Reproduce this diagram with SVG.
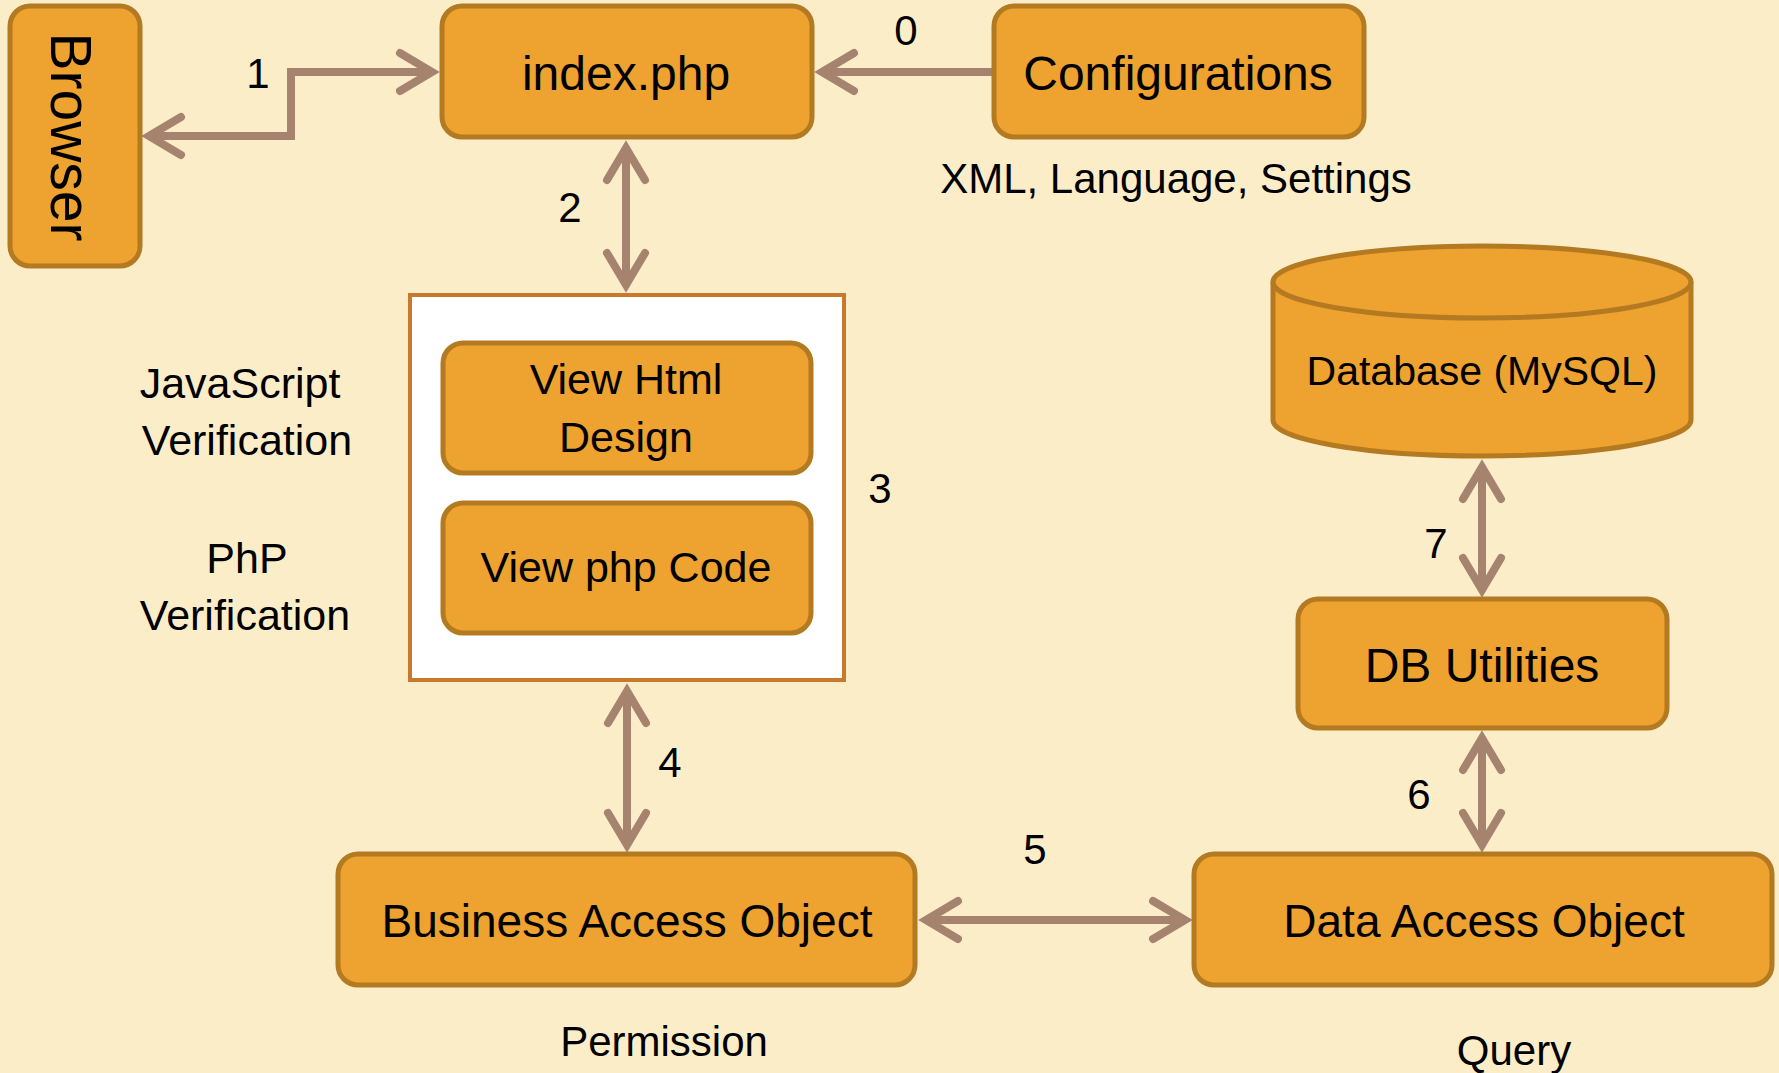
<svg xmlns="http://www.w3.org/2000/svg" width="1779" height="1073" viewBox="0 0 1779 1073">
<style>
.bg{fill:#FCEDC9}
.box{fill:#EEA22F;stroke:#B47A22;stroke-width:5}
.cont{fill:#FFFFFF;stroke:#C77A2E;stroke-width:4}
.t{font-family:"Liberation Sans",Arial,sans-serif;fill:#000;text-anchor:middle}
.n{font-size:42px}
.conn{fill:none;stroke:#A6836F;stroke-width:8;stroke-linejoin:miter}
</style>
<defs>
<marker id="chev" markerUnits="userSpaceOnUse" markerWidth="80" markerHeight="80" refX="0" refY="0" viewBox="-50 -40 80 80" orient="auto-start-reverse" overflow="visible">
<path d="M-32,-19 L0,0 L-32,19" fill="none" stroke="#A6836F" stroke-width="8" stroke-linecap="round" stroke-linejoin="miter"/>
</marker>
</defs>
<rect class="bg" x="0" y="0" width="1779" height="1073"/>

<g id="connectors">
<path class="conn" d="M994,72 L822,72" marker-end="url(#chev)"/>
<path class="conn" d="M149,136 L291,136 L291,72 L432,72" marker-start="url(#chev)" marker-end="url(#chev)"/>
<path class="conn" d="M626,148 L626,285" marker-start="url(#chev)" marker-end="url(#chev)"/>
<path class="conn" d="M627,691 L627,845" marker-start="url(#chev)" marker-end="url(#chev)"/>
<path class="conn" d="M926,920 L1185,920" marker-start="url(#chev)" marker-end="url(#chev)"/>
<path class="conn" d="M1482,738 L1482,845" marker-start="url(#chev)" marker-end="url(#chev)"/>
<path class="conn" d="M1482,467 L1482,590" marker-start="url(#chev)" marker-end="url(#chev)"/>
<text class="t n" x="906" y="45">0</text>
<text class="t n" x="258" y="88">1</text>
<text class="t n" x="570" y="222">2</text>
<text class="t n" x="880" y="503">3</text>
<text class="t n" x="670" y="777">4</text>
<text class="t n" x="1035" y="864">5</text>
<text class="t n" x="1419" y="809">6</text>
<text class="t n" x="1436" y="558">7</text>
</g>

<g id="browser">
<rect class="box" x="10" y="6" width="130" height="260" rx="20"/>
<text class="t" font-size="57" transform="translate(51,137) rotate(90)" x="0" y="0">Browser</text>
</g>

<g id="index">
<rect class="box" x="442" y="6" width="370" height="131" rx="20"/>
<text class="t" x="626" y="90" font-size="48">index.php</text>
</g>

<g id="configurations">
<rect class="box" x="994" y="6" width="370" height="131" rx="20"/>
<text class="t" x="1178" y="90" font-size="48">Configurations</text>
<text class="t" x="1176" y="193" font-size="42">XML, Language, Settings</text>
</g>

<g id="view">
<rect class="cont" x="410" y="295" width="434" height="385"/>
</g>

<g id="view-html">
<rect class="box" x="443" y="343" width="368" height="130" rx="20"/>
<text class="t" x="626" y="394" font-size="43">View Html</text>
<text class="t" x="626" y="452" font-size="43">Design</text>
</g>

<g id="view-php">
<rect class="box" x="443" y="503" width="368" height="130" rx="20"/>
<text class="t" x="626" y="582" font-size="43">View php Code</text>
</g>

<g id="verification-labels">
<text class="t" x="240" y="398" font-size="43">JavaScript</text>
<text class="t" x="247" y="455" font-size="43">Verification</text>
<text class="t" x="247" y="573" font-size="43">PhP</text>
<text class="t" x="245" y="630" font-size="43">Verification</text>
</g>

<g id="database">
<path class="box" d="M1273,282 L1273,420 A209,36 0 0 0 1691,420 L1691,282"/>
<ellipse class="box" cx="1482" cy="282" rx="209" ry="36"/>
<text class="t" x="1482" y="385" font-size="41">Database (MySQL)</text>
</g>

<g id="db-utilities">
<rect class="box" x="1298" y="599" width="369" height="129" rx="20"/>
<text class="t" x="1482" y="682" font-size="48">DB Utilities</text>
</g>

<g id="business-access-object">
<rect class="box" x="338" y="854" width="577" height="131" rx="20"/>
<text class="t" x="627" y="937" font-size="46">Business Access Object</text>
<text class="t" x="664" y="1056" font-size="42">Permission</text>
</g>

<g id="data-access-object">
<rect class="box" x="1194" y="854" width="578" height="131" rx="20"/>
<text class="t" x="1484" y="937" font-size="46">Data Access Object</text>
<text class="t" x="1514" y="1065" font-size="42">Query</text>
</g>
</svg>
